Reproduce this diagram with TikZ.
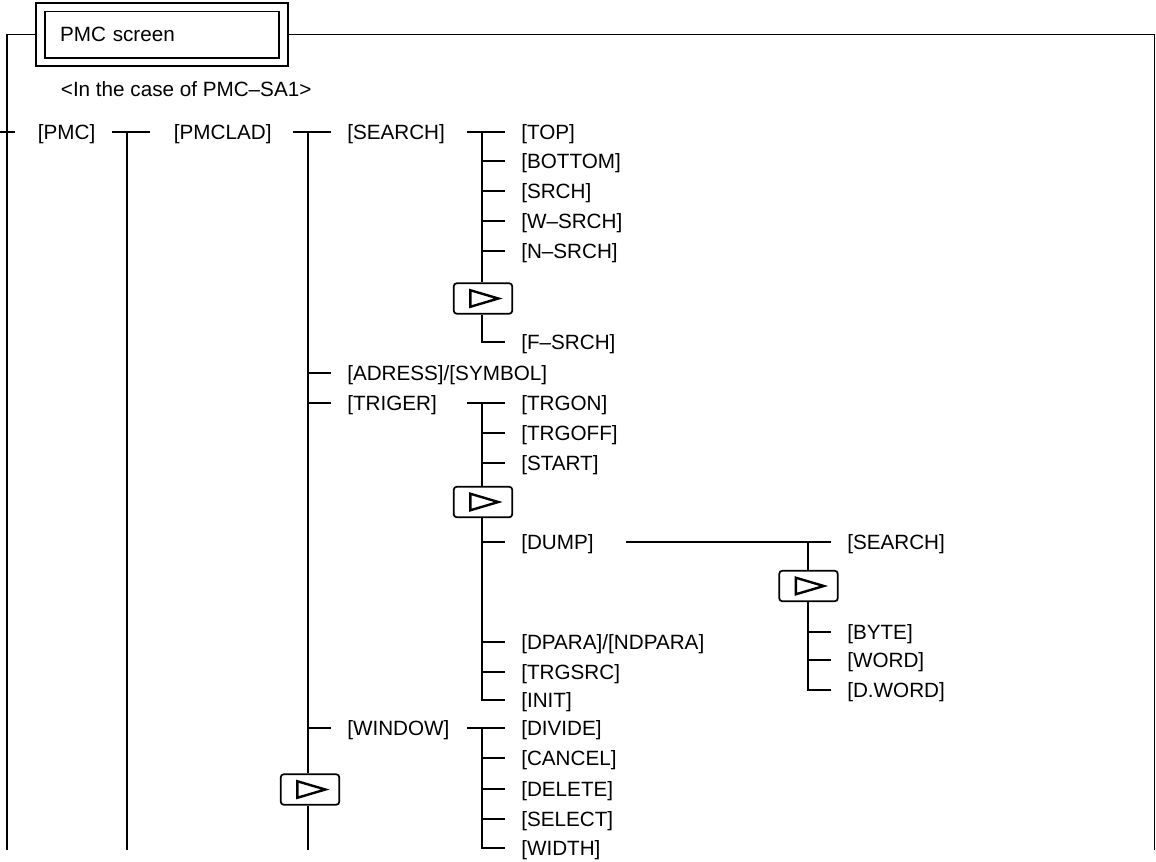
\documentclass[tikz,border=0pt]{standalone}
\usepackage{fontspec}
\setmainfont{Liberation Sans}
\usetikzlibrary{fit,calc}
\begin{document}
\begin{tikzpicture}[x=0.75pt,y=-0.75pt, line width=1.4pt,
  every node/.style={font=\fontsize{15.5}{18}\selectfont},
  lbl/.style={anchor=west, inner xsep=0pt, inner ysep=2pt, text depth=0pt},
  leaf/.style={anchor=west, inner xsep=11.5pt, inner ysep=2pt, text depth=0pt},
  btn/.style={draw, fill=white, rounded corners=2.5pt, line width=1.3pt,
    minimum width=44pt, minimum height=23pt, inner sep=0pt},
  tri/.style={line width=1.8pt, line join=miter}]
\useasboundingbox (0,0) rectangle (1156,861);

% title and frame
\node[draw, line width=1pt, minimum width=175.5pt, minimum height=35pt,
  text width=153pt, align=left, inner xsep=11.25pt] (title) at (162,34.5) {PMC screen};
\node[draw, line width=1.6pt, fit=(title), inner xsep=6pt, inner ysep=5.6pt] (titlebox) {};
\coordinate (frameBL) at (7,850);
\coordinate (frameBR) at (1154.5,850);
\draw (frameBL) |- (titlebox.west);
\draw (titlebox.east) -| (frameBR);

\node[lbl] (case) at (60,89) {<In the case of PMC–SA1>};

% level 0 / 1
\coordinate (in0) at (0,132);
\coordinate (in1) at (15,132);
\draw (in0) -- (in1);
\node[lbl] (pmc) at (37,132) {[PMC]};
\node[lbl] (pmclad) at (173,132) {[PMCLAD]};
\coordinate (pmcA) at (112,132);
\coordinate (pmcB) at (150,132);
\coordinate (pmcJ) at (127,132);
\coordinate (pmcEnd) at (127,850);
\draw (pmcA) -- (pmcB);
\draw (pmcJ) -- (pmcEnd);

% PMCLAD children
\coordinate (ladA) at (293,132);
\coordinate (ladJ) at (308,132);
\coordinate (ladEnd) at (308,850);
\node[leaf] (search) at (331,132) {[SEARCH]};
\node[leaf] (adress) at (331,373) {[ADRESS]/[SYMBOL]};
\node[leaf] (triger) at (331,403) {[TRIGER]};
\node[leaf] (window) at (331,728) {[WINDOW]};
\node[btn] (pb) at (310,789.5) {};
\draw (ladA) -- (search.west);
\draw (ladJ |- adress.west) -- (adress.west);
\draw (ladJ |- triger.west) -- (triger.west);
\draw (ladJ |- window.west) -- (window.west);
\draw (ladJ) -- (ladJ |- pb.north);
\draw (ladJ |- pb.south) -- (ladEnd);

% SEARCH children
\coordinate (sA) at (467,132);
\coordinate (sJ) at (482,132);
\node[leaf] (top) at (505,132) {[TOP]};
\node[leaf] (bottom) at (505,161) {[BOTTOM]};
\node[leaf] (srch) at (505,191) {[SRCH]};
\node[leaf] (wsrch) at (505,221) {[W–SRCH]};
\node[leaf] (nsrch) at (505,251) {[N–SRCH]};
\node[btn] (sb) at (483,298.5) {};
\node[leaf] (fsrch) at (505,342) {[F–SRCH]};
\draw (sA) -- (top.west);
\draw (sJ) -- (sJ |- sb.north);
\draw (sJ |- sb.south) |- (fsrch.west);
\foreach \n in {bottom,srch,wsrch,nsrch} \draw (sJ |- \n.west) -- (\n.west);

% TRIGER children
\coordinate (tA) at (467,403);
\coordinate (tJ) at (482,403);
\node[leaf] (trgon) at (505,403) {[TRGON]};
\node[leaf] (trgoff) at (505,433) {[TRGOFF]};
\node[leaf] (start) at (505,463) {[START]};
\node[btn] (tb) at (483,502) {};
\node[leaf] (dump) at (505,542) {[DUMP]};
\node[leaf] (dpara) at (505,642) {[DPARA]/[NDPARA]};
\node[leaf] (trgsrc) at (505,672) {[TRGSRC]};
\node[leaf] (init) at (505,700) {[INIT]};
\draw (tA) -- (trgon.west);
\draw (tJ) -- (tJ |- tb.north);
\draw (tJ |- tb.south) |- (init.west);
\foreach \n in {trgoff,start,dump,dpara,trgsrc} \draw (tJ |- \n.west) -- (\n.west);

% DUMP children
\coordinate (dA) at (626,542);
\coordinate (dJ) at (808,542);
\node[leaf] (dsearch) at (831,542) {[SEARCH]};
\node[btn] (db) at (808.5,586) {};
\node[leaf] (byte) at (831,632) {[BYTE]};
\node[leaf] (word) at (831,660) {[WORD]};
\node[leaf] (dword) at (831,690) {[D.WORD]};
\draw (dA) -- (dsearch.west);
\draw (dJ) -- (dJ |- db.north);
\draw (dJ |- db.south) |- (dword.west);
\foreach \n in {byte,word} \draw (dJ |- \n.west) -- (\n.west);

% WINDOW children
\coordinate (wA) at (467,728);
\coordinate (wJ) at (482,728);
\node[leaf] (divide) at (505,728) {[DIVIDE]};
\node[leaf] (cancel) at (505,758) {[CANCEL]};
\node[leaf] (delete) at (505,789) {[DELETE]};
\node[leaf] (select) at (505,819) {[SELECT]};
\node[leaf] (width) at (505,848) {[WIDTH]};
\draw (wA) -- (divide.west);
\draw (wJ) |- (width.west);
\foreach \n in {cancel,delete,select} \draw (wJ |- \n.west) -- (\n.west);

% triangle marks in the page buttons
\foreach \b in {sb,tb,db,pb}
  \draw[tri] ([shift={(-9.5pt,6.2pt)}]\b.center) -- ([xshift=11.5pt]\b.center)
    -- ([shift={(-9.5pt,-6.2pt)}]\b.center) -- cycle;
\end{tikzpicture}
\end{document}
